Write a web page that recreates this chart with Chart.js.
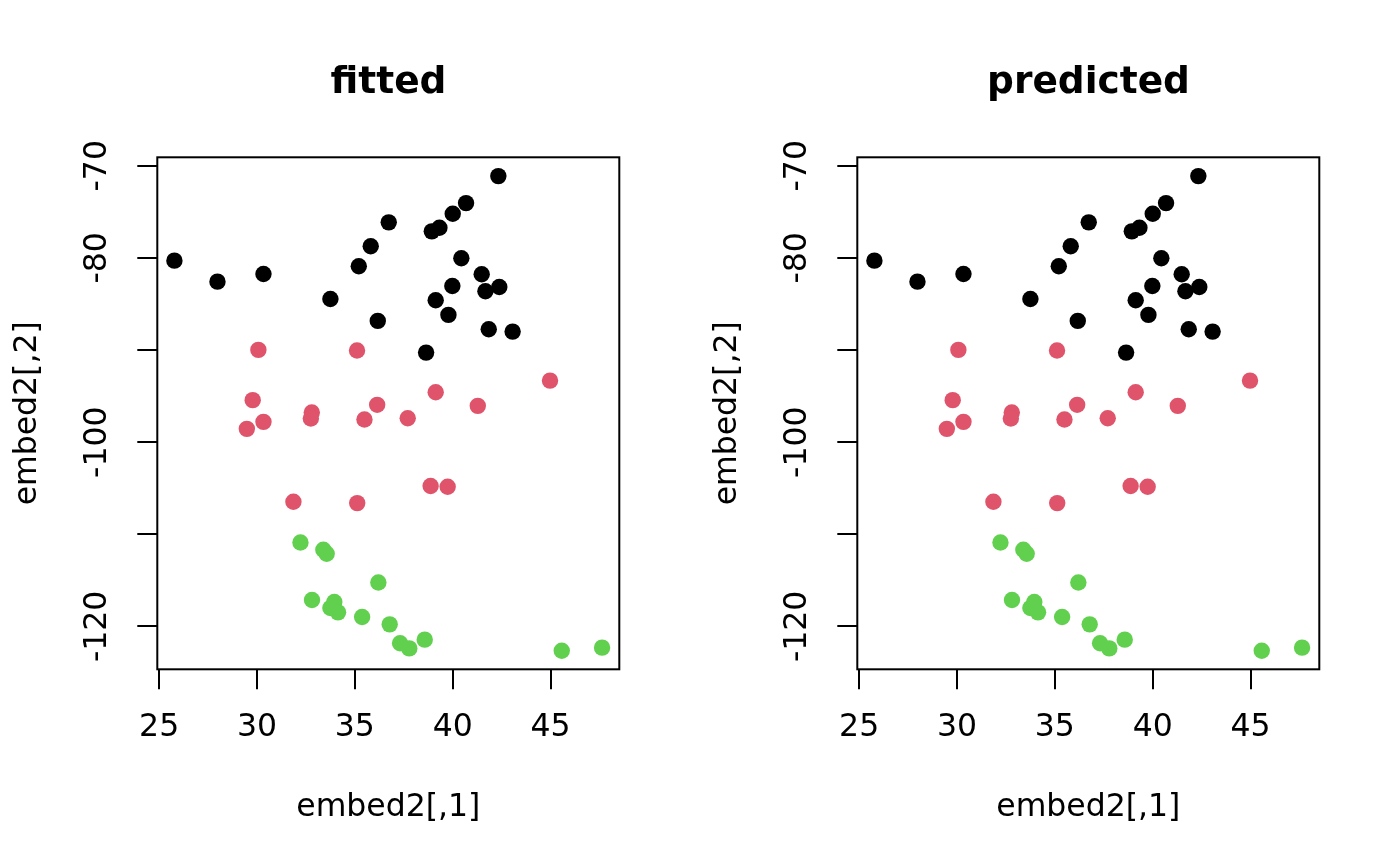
<!DOCTYPE html>
<html>
<head>
<meta charset="utf-8">
<script src="https://cdn.jsdelivr.net/npm/chart.js@4.4.1/dist/chart.umd.min.js"></script>
<style>
html,body{margin:0;padding:0;background:#fff;overflow:hidden;}
#wrap{position:relative;width:1400px;height:866px;overflow:hidden;background:#fff;}
canvas{position:absolute;top:0;}
</style>
</head>
<body>
<div id="wrap">
<canvas id="c1" width="777" height="866" style="left:0px;width:777px;height:866px"></canvas>
<canvas id="c2" width="777" height="866" style="left:700px;width:777px;height:866px"></canvas>
</div>
<script>
// ---- data ----
const panelTitles = ['fitted', 'predicted'];
const xAxisTitle = 'embed2[,1]';
const yAxisTitle = 'embed2[,2]';

const xTicks = [25, 30, 35, 40, 45];
const xTickLabels = ['25', '30', '35', '40', '45'];
const yTicks = [-120, -110, -100, -90, -80, -70];
const yTickLabels = ['-120', '', '-100', '', '-80', '-70'];

const cluster1X = [25.78, 27.98, 30.33, 33.75, 35.20, 35.81, 36.73, 36.17, 38.64, 38.93, 39.32, 40.00, 40.68, 42.33, 40.44, 39.98, 39.13, 39.78, 41.48, 41.67, 42.38, 41.84, 43.06];
const cluster1Y = [-80.30, -82.58, -81.75, -84.46, -80.91, -78.74, -76.14, -86.84, -90.28, -77.12, -76.72, -75.21, -74.05, -71.12, -80.04, -83.05, -84.60, -86.19, -81.78, -83.62, -83.16, -87.74, -88.00];

const cluster2X = [30.07, 35.11, 29.78, 29.48, 30.33, 32.80, 32.75, 35.49, 36.14, 37.70, 39.13, 41.28, 44.97, 31.86, 35.12, 38.87, 39.74];
const cluster2Y = [-89.99, -90.06, -95.44, -98.56, -97.80, -96.79, -97.44, -97.55, -95.95, -97.40, -94.58, -96.06, -93.32, -106.47, -106.62, -104.77, -104.85];

const cluster3X = [32.22, 33.39, 33.56, 36.20, 32.81, 33.95, 33.75, 34.14, 35.37, 36.78, 37.31, 37.78, 38.57, 45.57, 47.63];
const cluster3Y = [-110.89, -111.68, -112.11, -115.23, -117.14, -117.35, -118.00, -118.48, -118.98, -119.78, -121.84, -122.39, -121.44, -122.64, -122.31];

const clusterColors = ['#000000', '#DF536B', '#61D04F'];

// ---- chart construction ----
const FONT = 'DejaVu Sans';
Chart.defaults.font.family = FONT;
Chart.defaults.color = '#000';

function pts(xs, ys) { return xs.map((x, i) => ({x: x, y: ys[i]})); }

const boxPlugin = {
  id: 'rbox',
  afterDatasetsDraw(chart) {
    const a = chart.chartArea, ctx = chart.ctx;
    ctx.save();
    ctx.strokeStyle = '#000';
    ctx.lineWidth = 2;
    ctx.strokeRect(a.left, a.top, a.right - a.left, a.bottom - a.top);
    ctx.restore();
  }
};

function makePanel(id, title) {
  const series = [[cluster1X, cluster1Y], [cluster2X, cluster2Y], [cluster3X, cluster3Y]];
  const datasets = series.map((s, k) => ({
    data: pts(s[0], s[1]),
    backgroundColor: clusterColors[k],
    borderColor: clusterColors[k],
    pointRadius: 8.2,
    pointBorderWidth: 0,
    pointHoverRadius: 8.2,
    showLine: false
  }));
  const tickFont = {family: FONT, size: 31.5};
  return new Chart(document.getElementById(id), {
    type: 'scatter',
    data: {datasets: datasets},
    plugins: [boxPlugin],
    options: {
      responsive: false,
      animation: false,
      events: [],
      layout: {padding: 0},
      plugins: {
        legend: {display: false},
        tooltip: {enabled: false},
        title: {
          display: true, text: title, color: '#000',
          font: {family: FONT, size: 37.5, weight: 'bold'},
          padding: {top: 60.5, bottom: 51.8}
        }
      },
      scales: {
        x: {
          type: 'linear', position: 'bottom',
          min: 24.906, max: 48.51,
          afterBuildTicks: s => { s.ticks = xTicks.map(v => ({value: v})); },
          afterFit: s => { s.height = 196.7; },
          grid: {display: true, drawOnChartArea: false, drawTicks: true, tickLength: 20,
                 color: '#000', tickColor: '#000', lineWidth: 2, tickWidth: 2},
          border: {display: false},
          ticks: {autoSkip: false, minRotation: 0, maxRotation: 0, padding: 20,
                  color: '#000', font: tickFont,
                  callback: (v, i) => xTickLabels[i]},
          title: {display: true, text: xAxisTitle, color: '#000', font: tickFont,
                  padding: {top: 0, bottom: 39}}
        },
        y: {
          type: 'linear', position: 'left',
          min: -124.66, max: -69.08,
          afterBuildTicks: s => { s.ticks = yTicks.map(v => ({value: v})); },
          afterFit: s => { s.width = 157.3; },
          grid: {display: true, drawOnChartArea: false, drawTicks: true, tickLength: 20,
                 color: '#000', tickColor: '#000', lineWidth: 2, tickWidth: 2},
          border: {display: false},
          ticks: {autoSkip: false, minRotation: 90, maxRotation: 90, crossAlign: 'center',
                  padding: 4, color: '#000', font: tickFont,
                  callback: (v, i) => yTickLabels[i]},
          title: {display: true, text: yAxisTitle, color: '#000', font: tickFont,
                  padding: {top: 9, bottom: 0}}
        },
        yRightSpace: {
          type: 'linear', position: 'right', display: true,
          grid: {display: false}, border: {display: false},
          ticks: {display: false}, title: {display: false},
          afterFit: s => { s.width = 157.7; }
        }
      }
    }
  });
}

makePanel('c1', panelTitles[0]);
makePanel('c2', panelTitles[1]);
</script>
</body>
</html>
